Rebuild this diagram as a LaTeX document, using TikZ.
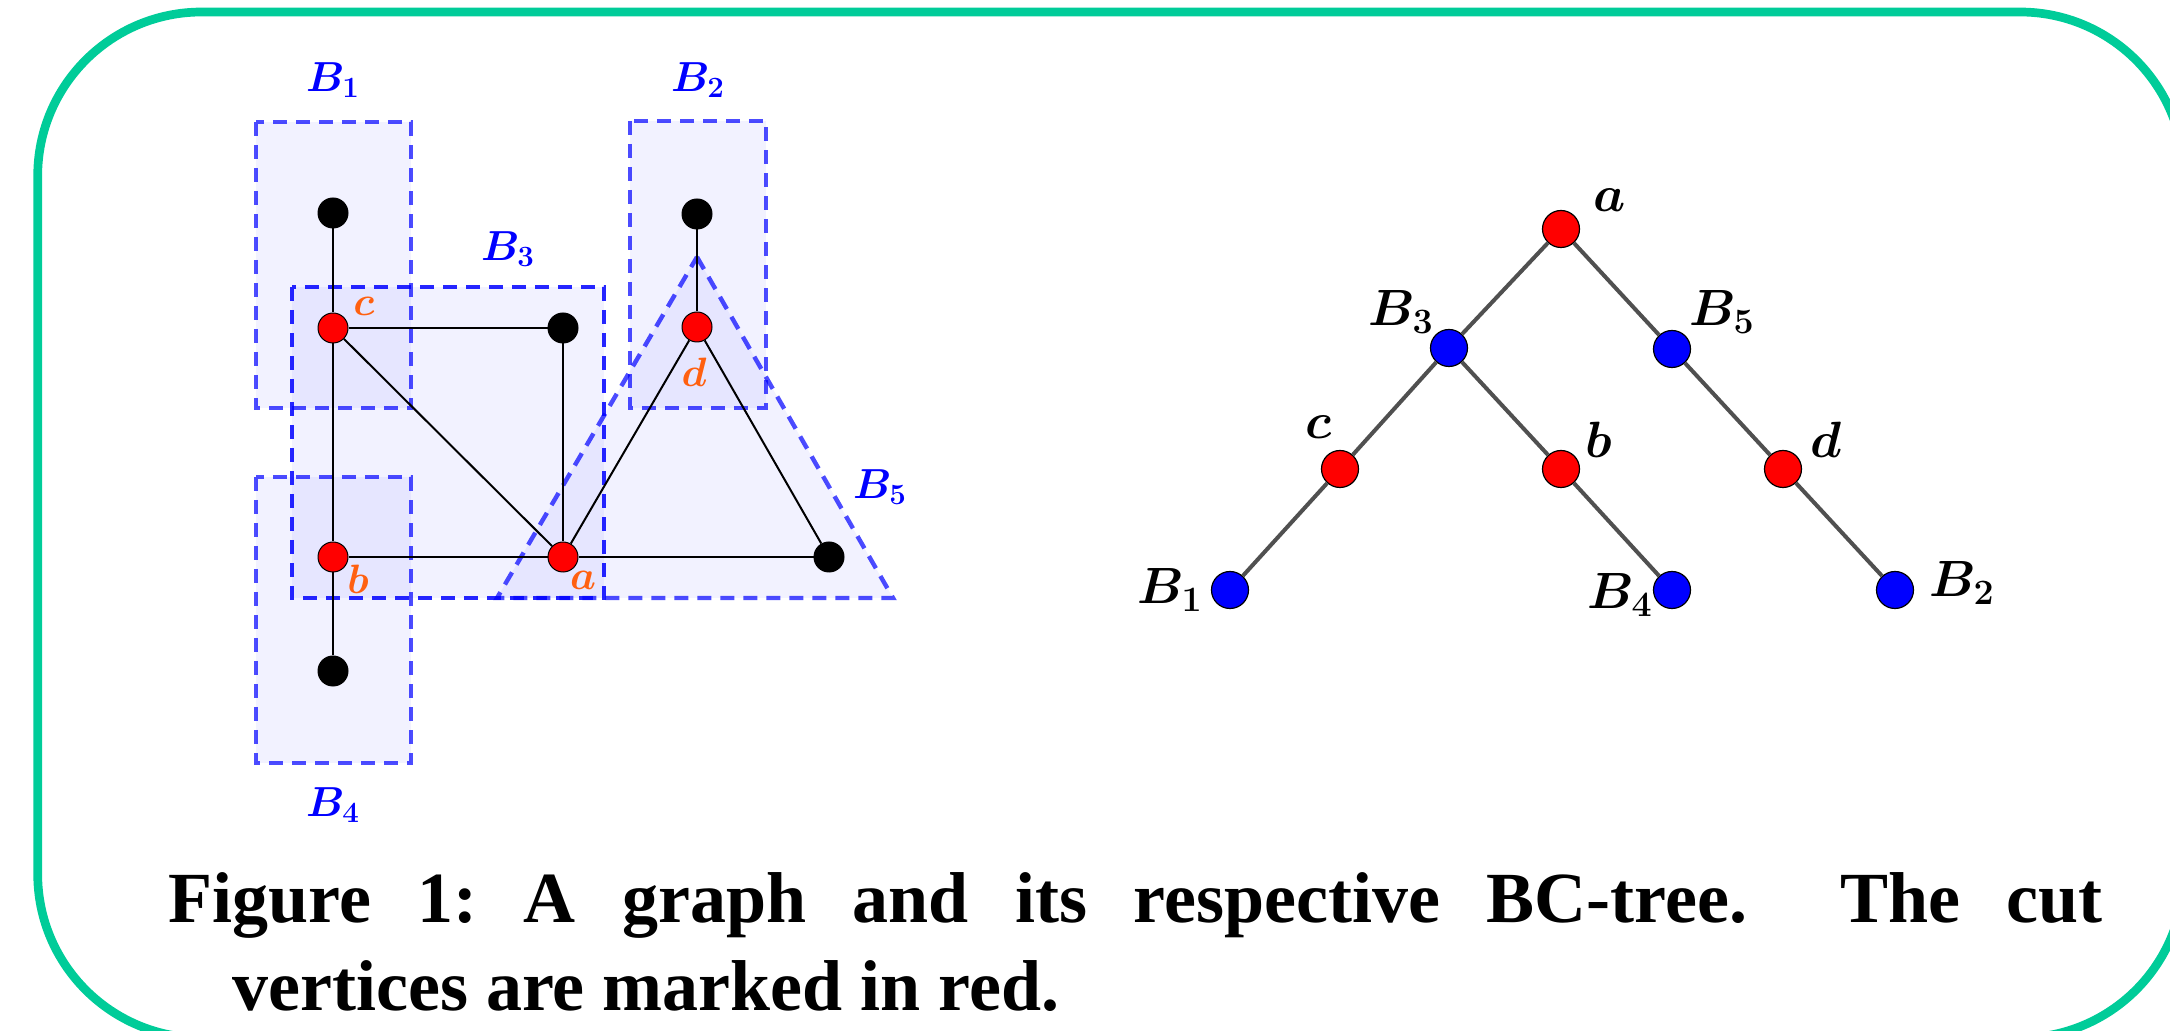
\RequirePackage{fix-cm}
\documentclass[tikz,border=0pt]{standalone}
\usepackage{fontspec}
\newfontfamily\capfont{Liberation Serif}
\definecolor{framegreen}{RGB}{0,204,153}
\definecolor{cutlbl}{RGB}{255,96,16}
\definecolor{edgegray}{RGB}{80,80,80}
\begin{document}
\begin{tikzpicture}[x=0.5pt,y=-0.5pt,
  gv/.style={circle, draw=black, line width=0.5pt, minimum size=15pt, inner sep=0pt},
  blk/.style={gv, fill=black},
  cutv/.style={gv, fill=red},
  tv/.style={circle, draw=black, line width=0.6pt, minimum size=18.5pt, inner sep=0pt},
  tred/.style={tv, fill=red},
  tblue/.style={tv, fill=blue},
  gedge/.style={line width=1pt, black},
  tedge/.style={line width=2pt, edgegray},
  blockreg/.style={draw=blue, draw opacity=0.7, dash pattern=on 7pt off 4.5pt, line width=2.2pt, fill=blue, fill opacity=0.05},
  blab/.style={text=blue, inner sep=0pt, font=\fontsize{21}{25}\selectfont\boldmath},
  clab/.style={text=cutlbl, inner sep=0pt, font=\fontsize{20.5}{24}\selectfont\boldmath},
  tlab/.style={text=black, inner sep=0pt, font=\fontsize{25.5}{30}\selectfont\boldmath},
  capt/.style={inner sep=0pt, anchor=base west, font=\capfont\bfseries\fontsize{36}{43}\selectfont\frenchspacing}
]
\useasboundingbox (0,0) rectangle (2170,1031);
% frame
\draw[framegreen, line width=4.35pt, rounded corners=82pt] (37.7,12) rectangle (2184,1038);

% block regions
\path[blockreg] (256,122) rectangle (411,408);
\path[blockreg] (630,121) rectangle (766,408);
\path[blockreg] (256,477) rectangle (411,763);
\path[blockreg, draw opacity=0.85] (292,287) rectangle (604,598);
\path[blockreg] (697,257) -- (893,598) -- (497,598) -- cycle;

% block labels
\node[blab] (lB1) at (333,80) {$B_1$};
\node[blab] (lB2) at (698,80) {$B_2$};
\node[blab] (lB3) at (508,249) {$B_3$};
\node[blab] (lB4) at (333,805) {$B_4$};
\node[blab] (lB5) at (880,487) {$B_5$};

% graph vertices
\node[blk]  (t1)  at (333,213) {};
\node[cutv] (c)   at (333,328) {};
\node[blk]  (r1)  at (563,328) {};
\node[cutv] (b)   at (333,557) {};
\node[cutv] (a)   at (563,557) {};
\node[blk]  (bot) at (333,671) {};
\node[blk]  (t2)  at (697,214) {};
\node[cutv] (d)   at (697,327) {};
\node[blk]  (r2)  at (829,557) {};

% graph edges
\draw[gedge] (t1) -- (c);
\draw[gedge] (c) -- (r1);
\draw[gedge] (c) -- (b);
\draw[gedge] (c) -- (a);
\draw[gedge] (r1) -- (a);
\draw[gedge] (b) -- (a);
\draw[gedge] (b) -- (bot);
\draw[gedge] (a) -- (r2);
\draw[gedge] (t2) -- (d);
\draw[gedge] (d) -- (a);
\draw[gedge] (d) -- (r2);

% cut vertex labels
\node[clab] (lc) at (364,306) {$c$};
\node[clab] (ld) at (694,372) {$d$};
\node[clab] (lb) at (358,579) {$b$};
\node[clab] (la) at (583,580) {$a$};

% BC-tree
\node[tred]  (ta)  at (1561,229) {};
\node[tblue] (tB3) at (1449,348) {};
\node[tblue] (tB5) at (1672,349) {};
\node[tred]  (tc)  at (1340,469) {};
\node[tred]  (tb)  at (1561,469) {};
\node[tred]  (td)  at (1783,469) {};
\node[tblue] (tB1) at (1230,590) {};
\node[tblue] (tB4) at (1672,590) {};
\node[tblue] (tB2) at (1895,590) {};

\draw[tedge] (ta) -- (tB3);
\draw[tedge] (ta) -- (tB5);
\draw[tedge] (tB3) -- (tc);
\draw[tedge] (tB3) -- (tb);
\draw[tedge] (tc) -- (tB1);
\draw[tedge] (tb) -- (tB4);
\draw[tedge] (tB5) -- (td);
\draw[tedge] (td) -- (tB2);

\node[tlab] (lta)  at (1610,200) {$a$};
\node[tlab] (ltB3) at (1401,312) {$B_3$};
\node[tlab] (ltB5) at (1722,312) {$B_5$};
\node[tlab] (ltc)  at (1319,427) {$c$};
\node[tlab] (ltb)  at (1599,440) {$b$};
\node[tlab] (ltd)  at (1826,440) {$d$};
\node[tlab] (ltB1) at (1170,590) {$B_1$};
\node[tlab] (ltB4) at (1620,595) {$B_4$};
\node[tlab] (ltB2) at (1962,583) {$B_2$};

% caption
\node[capt] (cap1) at (168,922) {\makebox[967pt][s]{Figure 1: A graph and its respective BC-tree.\ \ The cut}};
\node[capt] (cap2) at (232,1010) {vertices are marked in red.};
\end{tikzpicture}
\end{document}
